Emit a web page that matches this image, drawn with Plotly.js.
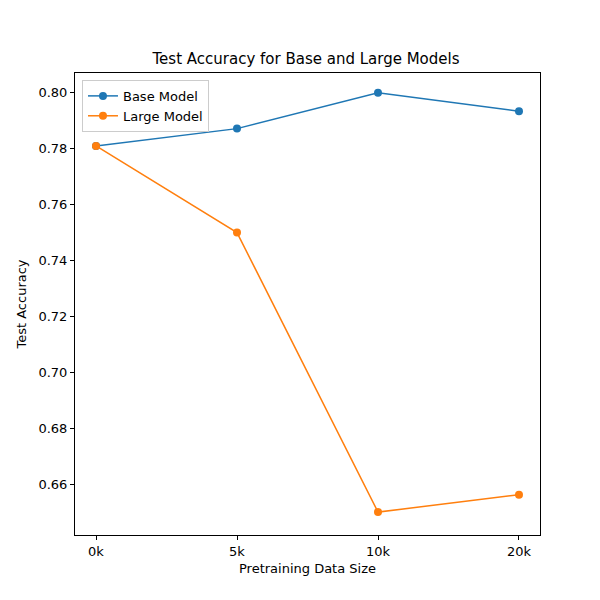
<!DOCTYPE html>
<html><head><script src="https://cdn.plot.ly/plotly-3.0.1.min.js"></script></head>
<body style="margin:0"><div id="c" style="width:600px;height:600px"></div>
<script>
var categories=["0k","5k","10k","20k"];
var baseVals=[0.781,0.7872,0.800,0.7934];
var largeVals=[0.781,0.750,0.650,0.6562];
var xi=[0,1,2,3];
var tr=[
{x:xi,y:baseVals,name:"Base Model",mode:"lines+markers",line:{color:"#1f77b4",width:1.5},marker:{size:8,color:"#1f77b4"}},
{x:xi,y:largeVals,name:"Large Model",mode:"lines+markers",line:{color:"#ff7f0e",width:1.5},marker:{size:8,color:"#ff7f0e"}}
];
var ax={showgrid:false,zeroline:false,showline:true,mirror:true,linecolor:"#000",linewidth:1,ticks:"outside",ticklen:4,tickcolor:"#000",tickfont:{size:13,color:"#000"}};
var layout={width:600,height:600,margin:{l:75,r:60,t:73,b:65},
font:{family:"DejaVu Sans",color:"#000"},paper_bgcolor:"#fff",plot_bgcolor:"#fff",
title:{text:"Test Accuracy for Base and Large Models",font:{size:15},x:0.51,xanchor:"center",y:0.893,yanchor:"bottom"},
xaxis:Object.assign({},ax,{range:[-0.149,3.149],tickvals:xi,ticktext:categories,title:{text:"Pretraining Data Size",font:{size:13},standoff:6}}),
yaxis:Object.assign({},ax,{range:[0.6418,0.8071],dtick:0.02,tickformat:".2f",title:{text:"Test Accuracy",font:{size:13},standoff:8}}),
legend:{x:0.015,y:0.985,xanchor:"left",yanchor:"top",bordercolor:"#ccc",borderwidth:1,bgcolor:"rgba(255,255,255,0.8)",font:{size:13}},showlegend:true};
Plotly.newPlot("c",tr,layout,{displayModeBar:false});
</script></body></html>
